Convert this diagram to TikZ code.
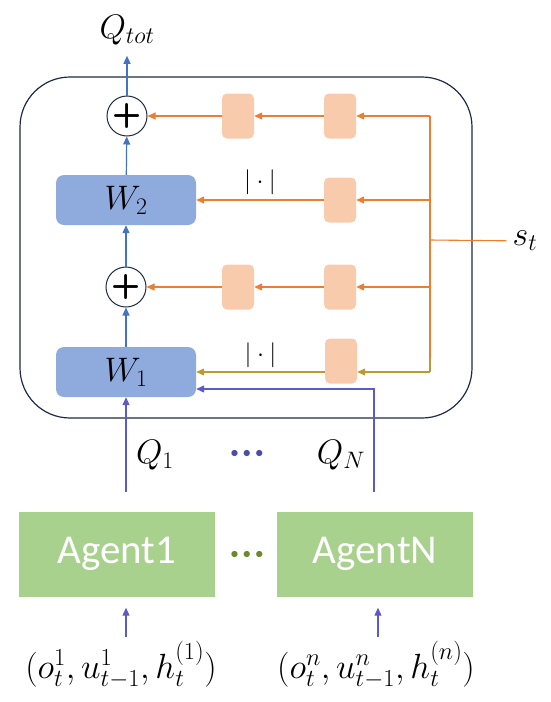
\RequirePackage{fix-cm}
\documentclass[tikz,border=0pt]{standalone}
\usepackage{amsmath,amssymb}
\usepackage{fontspec}
\newfontfamily\agentfont{Carlito}
\usepackage{tikz}
\usetikzlibrary{arrows.meta, positioning}

\definecolor{mixblue}{HTML}{4472C4}
\definecolor{wfill}{HTML}{8FAADC}
\definecolor{hyperorange}{HTML}{ED7D31}
\definecolor{hyperfill}{HTML}{F8CBAD}
\definecolor{absgold}{HTML}{BE9A2E}
\definecolor{qpurple}{HTML}{5A5AC8}
\definecolor{agentgreen}{HTML}{A9D18E}
\definecolor{dotgreen}{HTML}{6B8A2E}
\definecolor{framenavy}{HTML}{1F2A44}

\begin{document}
\begin{tikzpicture}[
    x=1pt, y=-1pt,
    mathlabel/.style={font=\fontsize{34}{36}\selectfont, inner sep=0pt},
    abslabel/.style={font=\fontsize{25}{27}\selectfont, inner sep=0pt, text=black},
    wbox/.style={rectangle, rounded corners=8pt, fill=wfill, minimum width=140pt, minimum height=50pt, font=\fontsize{34}{36}\selectfont},
    hyper/.style={rectangle, rounded corners=5pt, fill=hyperfill, minimum width=32pt, minimum height=45pt},
    sumnode/.style={circle, draw=framenavy, line width=1pt, minimum size=40pt, inner sep=0pt, font=\fontsize{34}{34}\selectfont\sffamily\bfseries},
    agent/.style={rectangle, fill=agentgreen, minimum width=196pt, minimum height=85pt, text=white, font=\agentfont\fontsize{41}{41}\selectfont},
    inputlabel/.style={font=\fontsize{35}{37}\selectfont, inner sep=4pt, anchor=base},
    flow/.style={mixblue, line width=1.2pt, -{Triangle[length=8pt,width=7pt]}},
    qflow/.style={qpurple, line width=1.1pt, -{Triangle[length=8pt,width=7pt]}},
    hyp/.style={hyperorange, line width=1.1pt, -{Triangle[length=8pt,width=7pt]}},
    goldflow/.style={absgold, line width=1.1pt, -{Triangle[length=8pt,width=7pt]}}
]
\useasboundingbox (0,0) rectangle (550,702);

% mixing network frame
\node[draw=framenavy, line width=1.2pt, rounded corners=50pt, minimum width=452pt, minimum height=341pt] (mixer) at (246,247.5) {};

% monotonic mixing path
\node[sumnode] (sumA) at (127,116) {+};
\node[wbox] (W2) at (126,200) {$W_2$};
\node[sumnode] (sumB) at (126,287) {+};
\node[wbox] (W1) at (126,372) {$W_1$};
\node[mathlabel, anchor=base] (Qtot) at (127,38) {$Q_{tot}$};

% hypernetworks
\node[hyper] (a1) at (238,116) {};
\node[hyper] (a2) at (340,116) {};
\node[hyper] (b2) at (340,200) {};
\node[hyper] (c1) at (238,287) {};
\node[hyper] (c2) at (340,287) {};
\node[hyper] (d2) at (341,361) {};

\coordinate (sA) at (430,116);
\coordinate (sB) at (430,200);
\coordinate (sIn) at (430,240);
\coordinate (sC) at (430,287);
\coordinate (sTurn) at (430,358);
\coordinate (sD) at (430,372);
\node[mathlabel, inner sep=6pt] (st) at (525,241) {$s_t$};

% agents
\node[agent] (agent1) at (117,554) {Agent1};
\node[agent] (agentN) at (375,554) {AgentN};
\node[font=\fontsize{16}{16}\selectfont, text=dotgreen] (adots) at (247,555) {$\bullet\mkern1mu\bullet\mkern1mu\bullet$};
\node[inputlabel] (in1) at (121,678) {$(o_t^1,u_{t-1}^1,h_t^{(1)})$};
\node[inputlabel] (inN) at (376,678) {$(o_t^n,u_{t-1}^n,h_t^{(n)})$};

% agent outputs
\coordinate (q1) at (126,492);
\coordinate (qN) at (374,492);
\node[mathlabel, anchor=base] (Q1) at (155,463) {$Q_1$};
\node[mathlabel, anchor=base] (QN) at (341,463) {$Q_N$};
\node[font=\fontsize{16}{16}\selectfont, text=qpurple!85!black] (qdots) at (247,454) {$\bullet\mkern1mu\bullet\mkern1mu\bullet$};

% connectors
\draw[flow, shorten >=11pt] (sumA) -- (Qtot);
\draw[flow] (W2) -- (sumA);
\draw[flow] (sumB) -- (W2);
\draw[flow] (W1) -- (sumB);

\draw[hyperorange, line width=1.1pt] (st) -- (sIn);
\draw[hyperorange, line width=1.1pt] (sA) -- (sTurn);
\draw[absgold, line width=1.1pt] (sTurn) -- (sD);
\draw[hyp] (sA) -- (a2);
\draw[hyp] (a2) -- (a1);
\draw[hyp] (a1) -- (sumA);
\draw[hyp] (sB) -- (b2);
\draw[hyp] (b2) -- node[abslabel, midway, above=5pt] {$|\cdot|$} (W2);
\draw[hyp] (sC) -- (c2);
\draw[hyp] (c2) -- (c1);
\draw[hyp] (c1) -- (sumB);
\draw[goldflow] (sD) -- (sD -| d2.east);
\draw[goldflow] (d2.west |- sD) -- node[abslabel, midway, above=4pt] {$|\cdot|$} (W1);

\draw[qflow] (q1) -- (W1);
\draw[qflow] (qN) |- ([yshift=-17pt]W1.east);
\draw[qflow, shorten >=11pt] (in1.north -| q1) -- (agent1.south -| q1);
\draw[qflow, shorten >=11pt] (inN.north -| 378,0) -- (agentN.south -| 378,0);
\end{tikzpicture}
\end{document}
